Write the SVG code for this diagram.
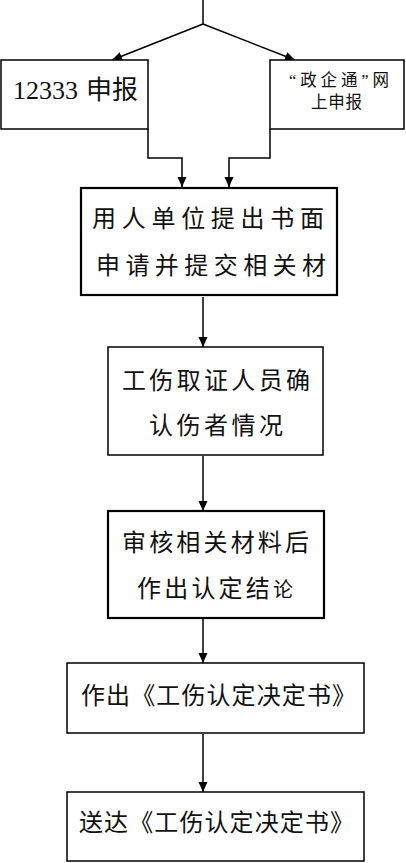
<svg xmlns="http://www.w3.org/2000/svg" width="406" height="863" viewBox="0 0 406 863">
<style>
.box{fill:#fff;stroke:#000;stroke-width:1.5}
.thick{stroke-width:2.2}
.t{font-family:"Liberation Serif","Noto Sans CJK SC",serif;font-size:24px;fill:#111}
.serif{font-family:"Liberation Serif",serif}
.c{fill:none;stroke:#000;stroke-width:1.5}
</style>
<defs>
<marker id="ah" markerUnits="userSpaceOnUse" markerWidth="10" markerHeight="10" refX="10" refY="4.5" orient="auto">
<path d="M0,0 L10,4.5 L0,9 z" fill="#000"/>
</marker>
</defs>
<g id="connectors">
<line class="c" x1="203" y1="0" x2="203" y2="24"/>
<line class="c" x1="203" y1="24" x2="112" y2="60" marker-end="url(#ah)"/>
<line class="c" x1="203" y1="24" x2="295" y2="60" marker-end="url(#ah)"/>
<polyline class="c" points="148,129 148,158 182,158 182,187" marker-end="url(#ah)"/>
<polyline class="c" points="270,129 270,158 229,158 229,187" marker-end="url(#ah)"/>
<line class="c" x1="203" y1="297" x2="203" y2="347" marker-end="url(#ah)"/>
<line class="c" x1="203" y1="456" x2="203" y2="511" marker-end="url(#ah)"/>
<line class="c" x1="203" y1="619" x2="203" y2="663" marker-end="url(#ah)"/>
<line class="c" x1="203" y1="734" x2="203" y2="792" marker-end="url(#ah)"/>
</g>
<g id="n1">
<rect class="box" x="1" y="60" width="147" height="69"/>
<text class="t" x="13" y="98.5" style="font-size:26px"><tspan class="serif">12333 </tspan><tspan x="86">申报</tspan></text>
</g>
<g id="n2">
<rect class="box" x="270" y="60" width="134" height="69"/>
<text class="t" x="289" y="86" style="font-size:16.5px" textLength="100" lengthAdjust="spacing">“政企通”网</text>
<text class="t" x="311" y="108" style="font-size:16.5px" textLength="51" lengthAdjust="spacing">上申报</text>
</g>
<g id="n3">
<rect class="box thick" x="81" y="188" width="256" height="107"/>
<text class="t" x="92" y="227" textLength="232" lengthAdjust="spacing">用人单位提出书面</text>
<text class="t" x="96" y="274" textLength="230" lengthAdjust="spacing">申请并提交相关材</text>
</g>
<g id="n4">
<rect class="box" x="108" y="347" width="215" height="108"/>
<text class="t" x="122" y="389" textLength="188" lengthAdjust="spacing">工伤取证人员确</text>
<text class="t" x="149" y="434" textLength="134" lengthAdjust="spacing">认伤者情况</text>
</g>
<g id="n5">
<rect class="box thick" x="108" y="511" width="216" height="107"/>
<text class="t" x="122" y="551" textLength="187" lengthAdjust="spacing">审核相关材料后</text>
<text class="t" x="137" y="597" textLength="156" lengthAdjust="spacing">作出认定结<tspan style="font-size:20px">论</tspan></text>
</g>
<g id="n6">
<rect class="box" x="67" y="663" width="297" height="70"/>
<text class="t" x="81" y="704" textLength="275" lengthAdjust="spacing">作出《工伤认定决定书》</text>
</g>
<g id="n7">
<rect class="box" x="67" y="792" width="297" height="69"/>
<text class="t" x="79" y="831" textLength="275" lengthAdjust="spacing">送达《工伤认定决定书》</text>
</g>
</svg>
